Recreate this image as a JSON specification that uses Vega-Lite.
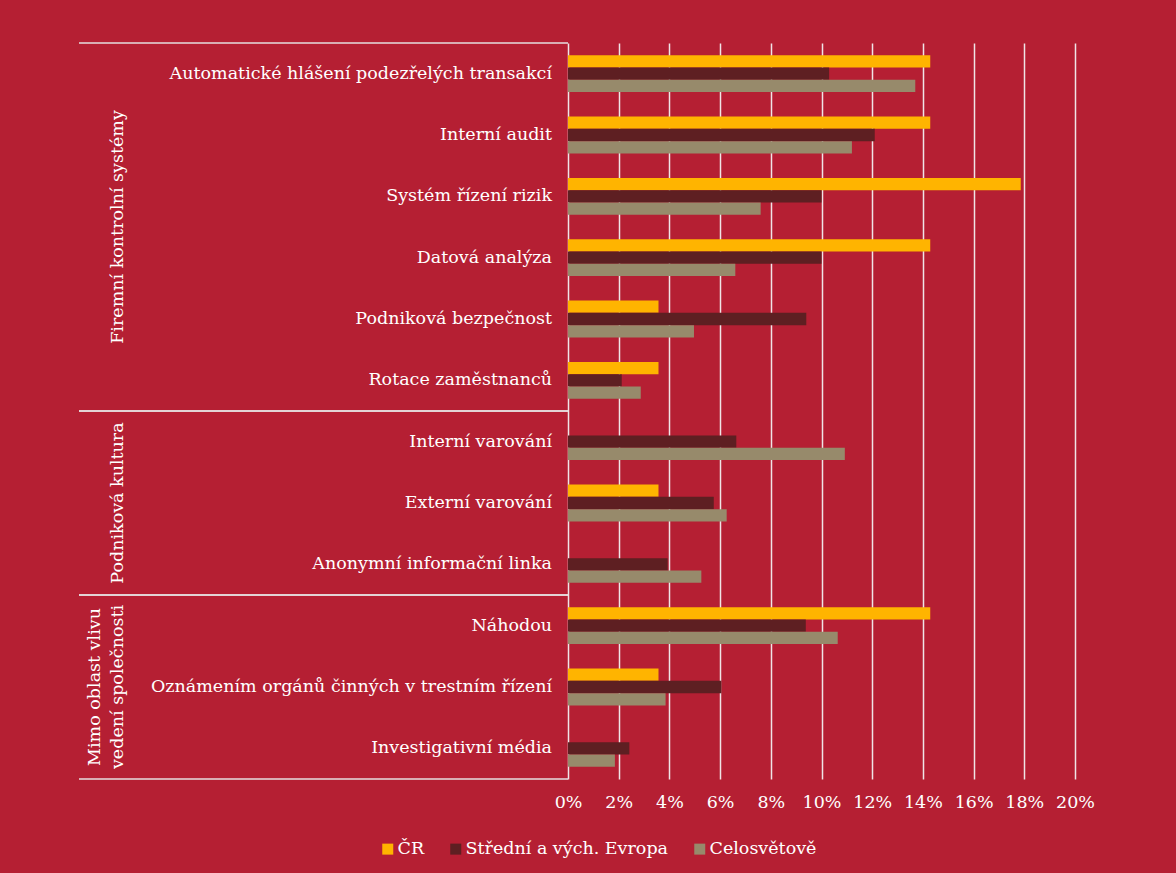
{
  "$schema": "https://vega.github.io/schema/vega-lite/v6.json",
  "background": "#B51F33",
  "padding": {"left": 78, "top": 42, "right": 90, "bottom": 15},
  "bounds": "flush",
  "spacing": 0,
  "config": {"view": {"stroke": null}, "font": "DejaVu Serif"},
  "datasets": {
    "bars": [
      {"category": "Automatické hlášení podezřelých transakcí", "series": "ČR", "value": 0.1429},
      {"category": "Automatické hlášení podezřelých transakcí", "series": "Střední a vých. Evropa", "value": 0.103},
      {"category": "Automatické hlášení podezřelých transakcí", "series": "Celosvětově", "value": 0.137},
      {"category": "Interní audit", "series": "ČR", "value": 0.1429},
      {"category": "Interní audit", "series": "Střední a vých. Evropa", "value": 0.121},
      {"category": "Interní audit", "series": "Celosvětově", "value": 0.112},
      {"category": "Systém řízení rizik", "series": "ČR", "value": 0.1786},
      {"category": "Systém řízení rizik", "series": "Střední a vých. Evropa", "value": 0.100},
      {"category": "Systém řízení rizik", "series": "Celosvětově", "value": 0.076},
      {"category": "Datová analýza", "series": "ČR", "value": 0.1429},
      {"category": "Datová analýza", "series": "Střední a vých. Evropa", "value": 0.100},
      {"category": "Datová analýza", "series": "Celosvětově", "value": 0.066},
      {"category": "Podniková bezpečnost", "series": "ČR", "value": 0.0357},
      {"category": "Podniková bezpečnost", "series": "Střední a vých. Evropa", "value": 0.094},
      {"category": "Podniková bezpečnost", "series": "Celosvětově", "value": 0.0497},
      {"category": "Rotace zaměstnanců", "series": "ČR", "value": 0.0357},
      {"category": "Rotace zaměstnanců", "series": "Střední a vých. Evropa", "value": 0.0212},
      {"category": "Rotace zaměstnanců", "series": "Celosvětově", "value": 0.0287},
      {"category": "Interní varování", "series": "ČR", "value": 0},
      {"category": "Interní varování", "series": "Střední a vých. Evropa", "value": 0.0664},
      {"category": "Interní varování", "series": "Celosvětově", "value": 0.1092},
      {"category": "Externí varování", "series": "ČR", "value": 0.0357},
      {"category": "Externí varování", "series": "Střední a vých. Evropa", "value": 0.0575},
      {"category": "Externí varování", "series": "Celosvětově", "value": 0.0626},
      {"category": "Anonymní informační linka", "series": "ČR", "value": 0},
      {"category": "Anonymní informační linka", "series": "Střední a vých. Evropa", "value": 0.0393},
      {"category": "Anonymní informační linka", "series": "Celosvětově", "value": 0.0526},
      {"category": "Náhodou", "series": "ČR", "value": 0.1429},
      {"category": "Náhodou", "series": "Střední a vých. Evropa", "value": 0.0938},
      {"category": "Náhodou", "series": "Celosvětově", "value": 0.1064},
      {"category": "Oznámením orgánů činných v trestním řízení", "series": "ČR", "value": 0.0357},
      {"category": "Oznámením orgánů činných v trestním řízení", "series": "Střední a vých. Evropa", "value": 0.0605},
      {"category": "Oznámením orgánů činných v trestním řízení", "series": "Celosvětově", "value": 0.0385},
      {"category": "Investigativní média", "series": "ČR", "value": 0},
      {"category": "Investigativní média", "series": "Střední a vých. Evropa", "value": 0.0242},
      {"category": "Investigativní média", "series": "Celosvětově", "value": 0.0185}
    ],
    "groups": [
      {"group": "Firemní kontrolní systémy", "first": "Automatické hlášení podezřelých transakcí", "last": "Rotace zaměstnanců", "mid": "Systém řízení rizik"},
      {"group": "Podniková kultura", "first": "Interní varování", "last": "Anonymní informační linka", "mid": "Externí varování"},
      {"group": "Mimo oblast vlivu\nvedení společnosti", "first": "Náhodou", "last": "Investigativní média", "mid": "Oznámením orgánů činných v trestním řízení"}
    ]
  },
  "hconcat": [
    {
      "width": 489,
      "height": 736,
      "layer": [
        {
          "data": {"name": "bars"},
          "transform": [{"filter": "datum.series === 'ČR'"}],
          "mark": {"type": "text", "align": "right", "baseline": "middle", "dx": -16, "fontSize": 17.5, "color": "#ffffff"},
          "encoding": {
            "y": {"field": "category", "type": "nominal", "sort": null, "axis": null,
              "scale": {"domain": ["Automatické hlášení podezřelých transakcí", "Interní audit", "Systém řízení rizik", "Datová analýza", "Podniková bezpečnost", "Rotace zaměstnanců", "Interní varování", "Externí varování", "Anonymní informační linka", "Náhodou", "Oznámením orgánů činných v trestním řízení", "Investigativní média"], "paddingInner": 0, "paddingOuter": 0}},
            "x": {"value": "width"},
            "text": {"field": "category"}
          }
        },
        {
          "data": {"name": "groups"},
          "mark": {"type": "rule", "color": "#e6dfe0", "strokeWidth": 1.5},
          "encoding": {"y": {"field": "first", "type": "nominal", "bandPosition": 0}}
        },
        {
          "data": {"name": "groups"},
          "mark": {"type": "rule", "color": "#e6dfe0", "strokeWidth": 1.5},
          "encoding": {"y": {"field": "last", "type": "nominal", "bandPosition": 1}}
        },
        {
          "data": {"name": "groups"},
          "transform": [{"filter": "datum.group === 'Firemní kontrolní systémy'"}],
          "mark": {"type": "text", "angle": 270, "align": "center", "baseline": "bottom", "dy": 48, "fontSize": 17.5, "color": "#ffffff"},
          "encoding": {"y": {"field": "mid", "type": "nominal", "bandPosition": 1}, "x": {"value": 0}, "text": {"field": "group"}}
        },
        {
          "data": {"name": "groups"},
          "transform": [{"filter": "datum.group === 'Podniková kultura'"}],
          "mark": {"type": "text", "angle": 270, "align": "center", "baseline": "bottom", "dy": 48, "fontSize": 17.5, "color": "#ffffff"},
          "encoding": {"y": {"field": "mid", "type": "nominal", "bandPosition": 0.5}, "x": {"value": 0}, "text": {"field": "group"}}
        },
        {
          "data": {"name": "groups"},
          "transform": [{"filter": "datum.group === 'Mimo oblast vlivu\\nvedení společnosti'"}],
          "mark": {"type": "text", "angle": 270, "align": "center", "baseline": "bottom", "dy": 25, "fontSize": 17.5, "color": "#ffffff", "lineBreak": "\n", "lineHeight": 23},
          "encoding": {"y": {"field": "mid", "type": "nominal", "bandPosition": 0.5}, "x": {"value": 0}, "text": {"field": "group"}}
        }
      ]
    },
    {
      "width": 507,
      "height": 736,
      "data": {"name": "bars"},
      "mark": {"type": "bar"},
      "encoding": {
        "y": {"field": "category", "type": "nominal", "sort": null, "axis": null,
          "scale": {"domain": ["Automatické hlášení podezřelých transakcí", "Interní audit", "Systém řízení rizik", "Datová analýza", "Podniková bezpečnost", "Rotace zaměstnanců", "Interní varování", "Externí varování", "Anonymní informační linka", "Náhodou", "Oznámením orgánů činných v trestním řízení", "Investigativní média"], "paddingInner": 0, "paddingOuter": 0}},
        "yOffset": {"field": "series", "type": "nominal", "scale": {"domain": ["ČR", "Střední a vých. Evropa", "Celosvětově"], "paddingInner": 0, "paddingOuter": 1.05}},
        "x": {"field": "value", "type": "quantitative", "scale": {"domain": [0, 0.2]},
          "axis": {"values": [0, 0.02, 0.04, 0.06, 0.08, 0.1, 0.12, 0.14, 0.16, 0.18, 0.2], "format": ".0%", "grid": true, "gridColor": "#f0e4e6", "gridWidth": 1.5, "ticks": false, "domain": false, "labelFontSize": 17.5, "labelColor": "#ffffff", "labelPadding": 14, "labelFlush": false, "labelOverlap": false, "title": null}},
        "color": {"field": "series", "type": "nominal",
          "scale": {"domain": ["ČR", "Střední a vých. Evropa", "Celosvětově"], "range": ["#FFB400", "#5E1F22", "#978A6B"]},
          "legend": {"orient": "none", "legendX": 300, "legendY": 797, "direction": "horizontal", "title": null, "symbolType": "square", "symbolSize": 121, "symbolStrokeWidth": 0, "labelFontSize": 17.5, "labelColor": "#ffffff", "labelLimit": 0, "columnPadding": 22, "labelOffset": 1, "padding": 0}}
      }
    }
  ]
}
